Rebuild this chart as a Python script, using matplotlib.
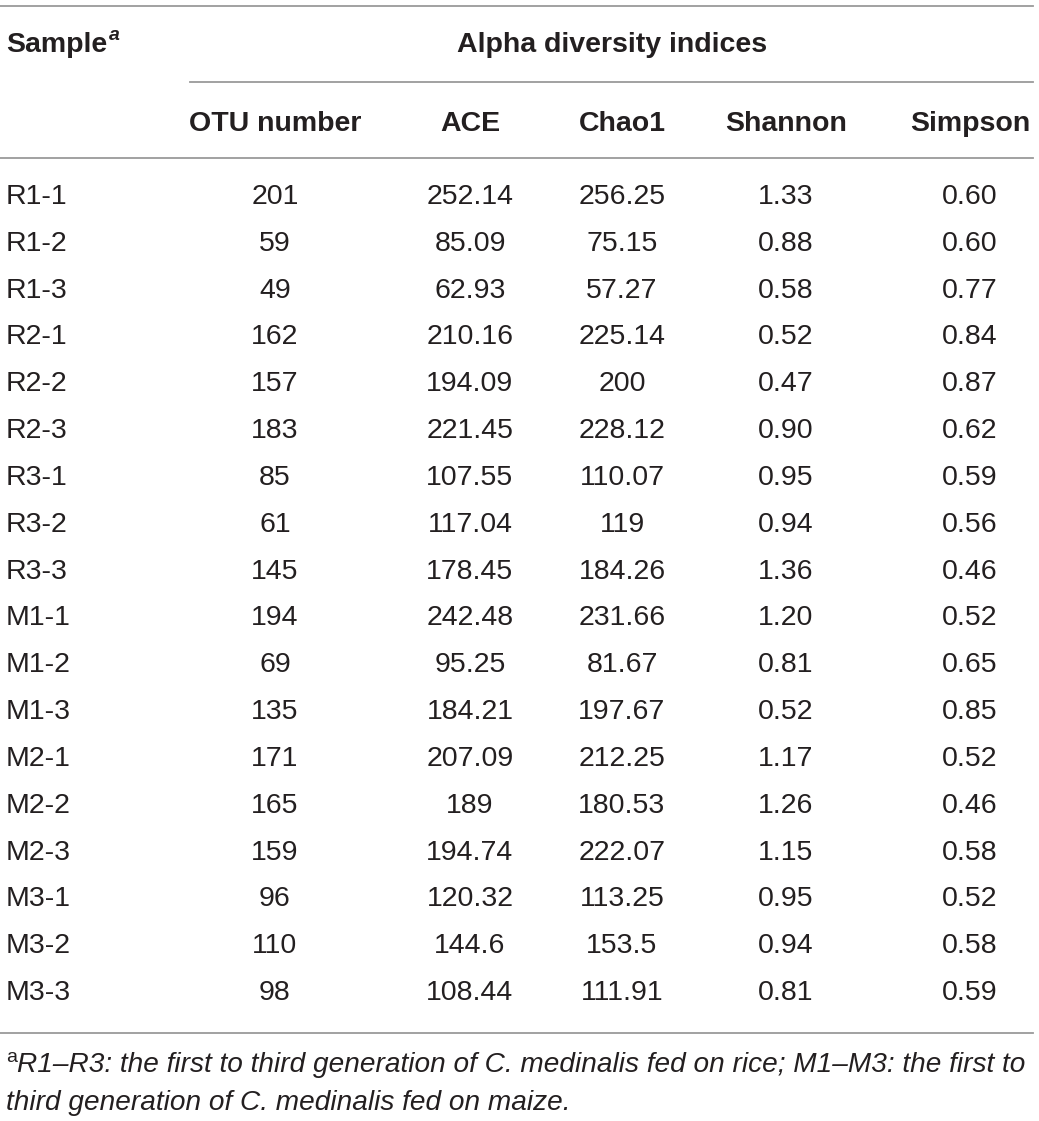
import matplotlib.pyplot as plt

samples = ["R1-1", "R1-2", "R1-3", "R2-1", "R2-2", "R2-3", "R3-1", "R3-2", "R3-3",
           "M1-1", "M1-2", "M1-3", "M2-1", "M2-2", "M2-3", "M3-1", "M3-2", "M3-3"]
otu = ["201", "59", "49", "162", "157", "183", "85", "61", "145",
       "194", "69", "135", "171", "165", "159", "96", "110", "98"]
ace = ["252.14", "85.09", "62.93", "210.16", "194.09", "221.45", "107.55", "117.04", "178.45",
       "242.48", "95.25", "184.21", "207.09", "189", "194.74", "120.32", "144.6", "108.44"]
chao1 = ["256.25", "75.15", "57.27", "225.14", "200", "228.12", "110.07", "119", "184.26",
         "231.66", "81.67", "197.67", "212.25", "180.53", "222.07", "113.25", "153.5", "111.91"]
shannon = ["1.33", "0.88", "0.58", "0.52", "0.47", "0.90", "0.95", "0.94", "1.36",
           "1.20", "0.81", "0.52", "1.17", "1.26", "1.15", "0.95", "0.94", "0.81"]
simpson = ["0.60", "0.60", "0.77", "0.84", "0.87", "0.62", "0.59", "0.56", "0.46",
           "0.52", "0.65", "0.85", "0.52", "0.46", "0.58", "0.52", "0.58", "0.59"]
col_headers = ["OTU number", "ACE", "Chao1", "Shannon", "Simpson"]

plt.rcParams['font.family'] = ['Liberation Sans', 'DejaVu Sans']
txt = '#231f20'
rule = '#9a9a9a'

W, H = 1039, 1121
fig = plt.figure(figsize=(W / 100, H / 100), dpi=100)
ax = fig.add_axes([0, 0, 1, 1])
ax.set_xlim(0, W)
ax.set_ylim(H, 0)
ax.axis('off')

col_x = [275, 470, 622, 786, 970]
fs = 20.5

# rules
ax.plot([0, 1033], [6, 6], color=rule, lw=1.3)
ax.plot([190, 1033], [82, 82], color=rule, lw=1.3)
ax.plot([0, 1033], [158, 158], color=rule, lw=1.3)
ax.plot([0, 1033], [1033, 1033], color=rule, lw=1.3)

# headers
ax.text(6, 45, "Sample", fontsize=fs, fontweight='bold', color=txt, va='center', ha='left')
ax.text(109, 35, "a", fontsize=14, fontweight='bold', fontstyle='italic', color=txt, va='center', ha='left')
ax.text(612, 45, "Alpha diversity indices", fontsize=fs, fontweight='bold', color=txt, va='center', ha='center')
for x, h in zip(col_x, col_headers):
    ax.text(x, 124, h, fontsize=fs, fontweight='bold', color=txt, va='center', ha='center')

# body
y0, dy = 197, (990 - 194) / 17
for i, s in enumerate(samples):
    y = y0 + i * dy
    ax.text(6, y, s, fontsize=fs, color=txt, va='center', ha='left')
    for x, col in zip(col_x, [otu, ace, chao1, shannon, simpson]):
        ax.text(x, y, col[i], fontsize=fs, color=txt, va='center', ha='center')

# footnote
fn = 20.2
ax.text(6, 1058, "a", fontsize=14, color=txt, va='center', ha='left')
ax.text(17, 1065, "R1–R3: the first to third generation of C. medinalis fed on rice; M1–M3: the first to",
        fontsize=fn, fontstyle='italic', color=txt, va='center', ha='left')
ax.text(6, 1103, "third generation of C. medinalis fed on maize.",
        fontsize=fn, fontstyle='italic', color=txt, va='center', ha='left')

fig.savefig("out.png", dpi=100)
